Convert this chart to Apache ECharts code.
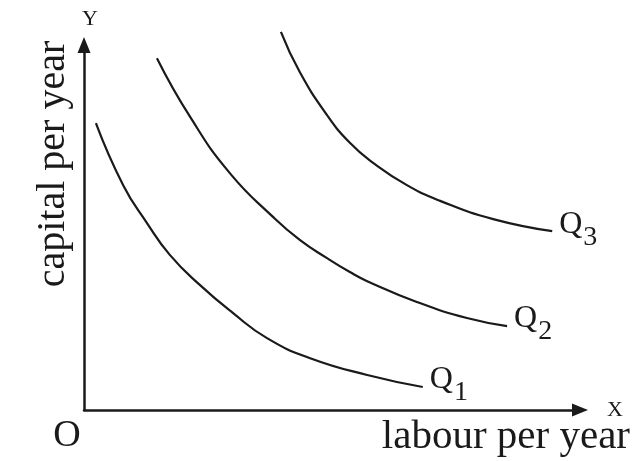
<!DOCTYPE html>
<html>
<head>
<meta charset="utf-8">
<title>isoquants</title>
<script src="https://cdn.jsdelivr.net/npm/echarts@6.0.0/dist/echarts.min.js"></script>
<style>
  html, body { margin: 0; padding: 0; background: #fff; }
  #chart { width: 632px; height: 461px; }
</style>
</head>
<body>
<div id="chart"></div>
<script>
// isoquant points [labour, capital]
var q1 = [[0.24, 7.86], [0.79, 6.16], [1.27, 5.12], [1.73, 4.25], [2.34, 3.42],
          [3.00, 2.66], [3.69, 1.97], [4.56, 1.42], [5.71, 0.96], [6.83, 0.63]];
var q2 = [[1.47, 9.64], [2.14, 8.03], [2.94, 6.49], [3.81, 5.29], [4.35, 4.66], [4.90, 4.16],
          [5.36, 3.78], [5.71, 3.53], [6.71, 2.96], [7.72, 2.52], [8.53, 2.30]];
var q3 = [[3.97, 10.36], [4.35, 9.26], [4.90, 8.08], [5.36, 7.32], [5.83, 6.77],
          [6.51, 6.16], [7.18, 5.73], [8.25, 5.23], [9.44, 4.90]];
var curveNames = ['1', '2', '3'];

var serif = '"Liberation Serif", "DejaVu Serif", serif';
var ink = '#1a1a1a';

function curve(sub, data) {
  return {
    name: 'Q' + sub,
    type: 'line',
    data: data,
    smooth: 0.5,
    symbol: 'none',
    clip: false,
    silent: true,
    lineStyle: { color: ink, width: 2.2 },
    endLabel: {
      show: true,
      distance: 7,
      formatter: '{q|Q}{s|' + sub + '}',
      rich: {
        q: { fontFamily: serif, fontSize: 32, color: ink, lineHeight: 32, padding: [0, 0, 14, 0] },
        s: { fontFamily: serif, fontSize: 28, color: ink, lineHeight: 28, padding: [12, 0, 0, 1] }
      }
    }
  };
}

var chart = echarts.init(document.getElementById('chart'));
chart.setOption({
  backgroundColor: '#fff',
  animation: false,
  grid: { left: 84, top: 45, right: 52, bottom: 51, containLabel: false, outerBoundsMode: 'none' },
  xAxis: {
    type: 'value',
    min: 0,
    max: 10,
    name: 'X',
    nameLocation: 'end',
    nameGap: 27,
    nameTextStyle: { fontFamily: serif, fontSize: 22, color: ink },
    axisLine: {
      show: true,
      symbol: ['none', 'triangle'],
      symbolSize: [13, 16],
      lineStyle: { color: ink, width: 2.5 }
    },
    axisTick: { show: false },
    axisLabel: { show: false },
    splitLine: { show: false }
  },
  yAxis: {
    type: 'value',
    min: 0,
    max: 10,
    name: 'Y',
    nameLocation: 'end',
    nameGap: 15,
    nameTextStyle: { fontFamily: serif, fontSize: 22, color: ink, padding: [0, 0, 0, 12] },
    axisLine: {
      show: true,
      symbol: ['none', 'triangle'],
      symbolSize: [13, 16],
      lineStyle: { color: ink, width: 2.5 }
    },
    axisTick: { show: false },
    axisLabel: { show: false },
    splitLine: { show: false }
  },
  graphic: [
    {
      type: 'text', x: 67, y: 436,
      style: { text: 'O', font: '38px ' + serif, fill: ink, textAlign: 'center', textVerticalAlign: 'middle' }
    },
    {
      type: 'text', x: 630, y: 437,
      style: { text: 'labour per year', font: '41px ' + serif, fill: ink, textAlign: 'right', textVerticalAlign: 'middle' }
    },
    {
      type: 'text', x: 53, y: 164, rotation: Math.PI / 2,
      style: { text: 'capital per year', font: '40px ' + serif, fill: ink, textAlign: 'center', textVerticalAlign: 'middle' }
    }
  ],
  series: [
    curve(curveNames[0], q1),
    curve(curveNames[1], q2),
    curve(curveNames[2], q3)
  ]
});
</script>
</body>
</html>
